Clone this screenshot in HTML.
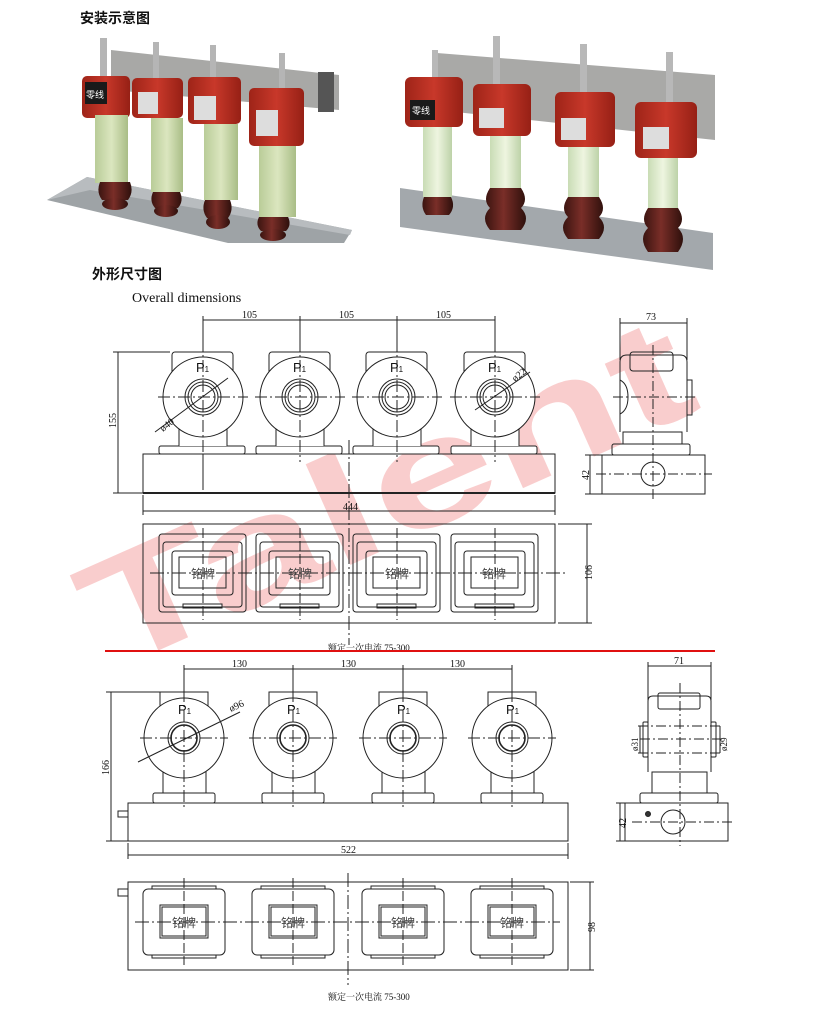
<!DOCTYPE html>
<html><head><meta charset="utf-8"><style>
html,body{margin:0;padding:0;background:#fff;}
svg{display:block;}
.t{font-family:"Liberation Sans","Noto Sans CJK SC",sans-serif;}
.s{font-family:"Liberation Serif","Noto Serif CJK SC",serif;}
</style></head><body>
<svg width="820" height="1028" viewBox="0 0 820 1028" xmlns="http://www.w3.org/2000/svg">
<defs>
<linearGradient id="grn" x1="0" x2="1"><stop offset="0" stop-color="#b9cc98"/><stop offset=".5" stop-color="#dbe6bf"/><stop offset="1" stop-color="#a9bd86"/></linearGradient>
<linearGradient id="grn2" x1="0" x2="1"><stop offset="0" stop-color="#c9dcb5"/><stop offset=".5" stop-color="#eef5e0"/><stop offset="1" stop-color="#bdd2a8"/></linearGradient>
<linearGradient id="brn" x1="0" x2="1"><stop offset="0" stop-color="#3a1410"/><stop offset=".45" stop-color="#7a2e28"/><stop offset="1" stop-color="#2e100c"/></linearGradient>
<linearGradient id="red" x1="0" x2="1"><stop offset="0" stop-color="#9e2418"/><stop offset=".5" stop-color="#c8382a"/><stop offset="1" stop-color="#962015"/></linearGradient>
</defs>

<text x="80" y="23" class="t" font-size="14" font-weight="bold" fill="#111">安装示意图</text>
<text x="92" y="279" class="t" font-size="14" font-weight="bold" fill="#111">外形尺寸图</text>
<text x="132" y="302" class="s" font-size="14" fill="#111">Overall dimensions</text>

<!-- LEFT PHOTO -->
<polygon points="47,200 87,177 352,230 344,243 228,243" fill="#9ea3a6"/>
<polygon points="47,200 87,177 352,230 350,235 90,190" fill="#b8bcbf"/>
<polygon points="111,50 339,75 339,110 111,90" fill="#a8a8a6"/>
<rect x="318" y="72" width="16" height="40" fill="#555"/>
<g stroke="none">
<rect x="100" y="38" width="7" height="40" fill="#b5b5b5"/>
<rect x="153" y="42" width="6" height="40" fill="#b5b5b5"/>
<rect x="210" y="45" width="6" height="40" fill="#b5b5b5"/>
<rect x="279" y="53" width="6" height="40" fill="#b5b5b5"/>
<rect x="82" y="76" width="48" height="42" rx="5" fill="url(#red)"/>
<rect x="85" y="82" width="22" height="22" fill="#1a1a1a"/>
<text x="86" y="98" class="t" font-size="9" fill="#fff">零线</text>
<rect x="132" y="78" width="51" height="40" rx="5" fill="url(#red)"/>
<rect x="138" y="92" width="20" height="22" fill="#ddd"/>
<rect x="188" y="77" width="53" height="47" rx="5" fill="url(#red)"/>
<rect x="194" y="96" width="22" height="24" fill="#ddd"/>
<rect x="249" y="88" width="55" height="58" rx="5" fill="url(#red)"/>
<rect x="256" y="110" width="22" height="26" fill="#ddd"/>
<rect x="95" y="115" width="33" height="68" fill="url(#grn)"/>
<rect x="151" y="118" width="32" height="74" fill="url(#grn)"/>
<rect x="204" y="124" width="34" height="76" fill="url(#grn)"/>
<rect x="259" y="146" width="37" height="71" fill="url(#grn)"/>
<path d="M100,182 h30 q4,10 -2,18 h-26 q-6,-8 -2,-18z" fill="url(#brn)"/>
<ellipse cx="115" cy="204" rx="13" ry="6" fill="url(#brn)"/>
<path d="M153,192 h27 q4,9 -2,16 h-23 q-6,-7 -2,-16z" fill="url(#brn)"/>
<ellipse cx="166" cy="211" rx="12" ry="6" fill="url(#brn)"/>
<path d="M205,200 h25 q4,10 -2,18 h-21 q-6,-8 -2,-18z" fill="url(#brn)"/>
<ellipse cx="218" cy="222" rx="12" ry="7" fill="url(#brn)"/>
<path d="M259,217 h29 q4,8 -2,14 h-25 q-6,-6 -2,-14z" fill="url(#brn)"/>
<ellipse cx="273" cy="235" rx="13" ry="6" fill="url(#brn)"/>
</g>

<!-- RIGHT PHOTO -->
<polygon points="400,188 713,233 713,270 400,227" fill="#a3a8ac"/>
<polygon points="437,53 715,75 715,140 437,110" fill="#a9a9a7"/>
<rect x="432" y="50" width="6" height="35" fill="#b8b8b8"/>
<rect x="493" y="36" width="7" height="50" fill="#b8b8b8"/>
<rect x="580" y="44" width="7" height="50" fill="#b8b8b8"/>
<rect x="666" y="52" width="7" height="52" fill="#b8b8b8"/>
<rect x="405" y="77" width="58" height="50" rx="6" fill="url(#red)"/>
<rect x="410" y="100" width="25" height="20" fill="#1a1a1a"/>
<text x="412" y="114" class="t" font-size="9" fill="#fff">零线</text>
<rect x="473" y="84" width="58" height="52" rx="6" fill="url(#red)"/>
<rect x="479" y="108" width="25" height="20" fill="#ddd"/>
<rect x="555" y="92" width="60" height="55" rx="6" fill="url(#red)"/>
<rect x="561" y="118" width="25" height="22" fill="#ddd"/>
<rect x="635" y="102" width="62" height="56" rx="6" fill="url(#red)"/>
<rect x="643" y="127" width="26" height="22" fill="#ddd"/>
<rect x="423" y="127" width="29" height="70" fill="url(#grn2)"/>
<rect x="490" y="136" width="31" height="52" fill="url(#grn2)"/>
<rect x="568" y="147" width="31" height="50" fill="url(#grn2)"/>
<rect x="648" y="158" width="30" height="50" fill="url(#grn2)"/>
<path d="M424,197 h27 q5,10 -2,18 h-23 q-6,-8 -2,-18z" fill="url(#brn)"/>
<path d="M490,188 h31 q8,12 0,20 q10,10 0,22 h-31 q-10,-12 0,-22 q-8,-8 0,-20z" fill="url(#brn)"/>
<path d="M568,197 h31 q8,12 0,20 q10,10 0,22 h-31 q-10,-12 0,-22 q-8,-8 0,-20z" fill="url(#brn)"/>
<path d="M648,208 h30 q8,12 0,20 q10,10 0,24 h-30 q-10,-14 0,-24 q-8,-8 0,-20z" fill="url(#brn)"/>

<!-- WATERMARK -->
<text x="0" y="0" transform="translate(110,672) rotate(-24)" class="t" font-size="152" font-weight="bold" fill="#f6b8b8" fill-opacity="0.7" textLength="650" lengthAdjust="spacingAndGlyphs">Talent</text>

<!-- ===== DRAWING 1 ===== -->
<g fill="none" stroke="#222" stroke-width="1">
<line x1="203" y1="320" x2="495" y2="320"/>
<line x1="203" y1="316" x2="203" y2="490"/>
<line x1="300" y1="316" x2="300" y2="348"/>
<line x1="397" y1="316" x2="397" y2="348"/>
<line x1="495" y1="316" x2="495" y2="348"/>
<line x1="113" y1="352" x2="170" y2="352"/>
<line x1="118" y1="352" x2="118" y2="493"/>
<line x1="113" y1="493" x2="143" y2="493"/>
<line x1="143" y1="511" x2="555" y2="511"/>
<line x1="143" y1="495" x2="143" y2="515"/>
<line x1="555" y1="495" x2="555" y2="515"/>
<rect x="143" y="454" width="412" height="39"/>
<line x1="143" y1="493" x2="555" y2="493" stroke-width="2"/>
<line x1="349" y1="440" x2="349" y2="645" stroke-dasharray="14,3,2,3"/>
</g>
<g id="u1" fill="none" stroke="#222" stroke-width="1">
<rect x="172" y="352" width="61" height="30" rx="3" fill="#fff"/>
<rect x="159" y="446" width="86" height="8" rx="2" fill="#fff"/>
<rect x="179" y="425" width="48" height="21" fill="#fff" stroke="none"/>
<line x1="179" y1="424" x2="179" y2="446"/><line x1="227" y1="424" x2="227" y2="446"/>
<circle cx="203" cy="397" r="40" fill="#fff"/>
<circle cx="203" cy="397" r="18"/>
<circle cx="203" cy="397" r="15"/>
<circle cx="203" cy="397" r="12"/>
<line x1="158" y1="397" x2="248" y2="397" stroke-dasharray="12,3,2,3"/>
<line x1="203" y1="340" x2="203" y2="462" stroke-dasharray="12,3,2,3"/>
</g>
<use href="#u1" x="97"/><use href="#u1" x="194"/><use href="#u1" x="292"/>
<g class="t" font-size="13" fill="#111">
<text x="196" y="372">P<tspan font-size="8">1</tspan></text>
<text x="293" y="372">P<tspan font-size="8">1</tspan></text>
<text x="390" y="372">P<tspan font-size="8">1</tspan></text>
<text x="488" y="372">P<tspan font-size="8">1</tspan></text>
</g>
<g stroke="#222" stroke-width="1"><line x1="155" y1="432" x2="228" y2="378"/><line x1="475" y1="410" x2="530" y2="372"/></g>
<g class="s" font-size="10" fill="#111">
<text x="242" y="318">105</text><text x="339" y="318">105</text><text x="436" y="318">105</text>
<text x="343" y="510">444</text>
<text transform="translate(116,428) rotate(-90)">155</text>
<text transform="translate(163,432) rotate(-38)">ø40</text>
<text transform="translate(515,382) rotate(-38)">ø22</text>
<text transform="translate(592,580) rotate(-90)">106</text>
<text x="328" y="651" font-size="9">额定一次电流 75-300</text>
</g>
<g fill="none" stroke="#222" stroke-width="1">
<rect x="143" y="524" width="412" height="99"/>
<line x1="558" y1="524" x2="592" y2="524"/><line x1="558" y1="623" x2="592" y2="623"/>
<line x1="587" y1="524" x2="587" y2="623"/>
<line x1="150" y1="573" x2="565" y2="573" stroke-dasharray="14,3,2,3"/>
</g>
<g id="p1" fill="none" stroke="#222" stroke-width="1">
<rect x="159" y="534" width="87" height="78" rx="3"/>
<rect x="163" y="542" width="79" height="65" rx="3"/>
<rect x="172" y="551" width="61" height="44" rx="3"/>
<rect x="179" y="557" width="47" height="31"/>
<rect x="183" y="604" width="39" height="4"/>
<line x1="203" y1="528" x2="203" y2="620" stroke-dasharray="10,3"/>
</g>
<use href="#p1" x="97"/><use href="#p1" x="194"/><use href="#p1" x="292"/>
<g class="t" font-size="12" fill="#444">
<text x="191" y="578">铭牌</text><text x="288" y="578">铭牌</text><text x="385" y="578">铭牌</text><text x="482" y="578">铭牌</text>
</g>
<g fill="none" stroke="#222" stroke-width="1">
<line x1="620" y1="323" x2="687" y2="323"/>
<line x1="620" y1="318" x2="620" y2="360"/><line x1="687" y1="318" x2="687" y2="360"/>
<path d="M620,432 L620,362 Q620,355 627,355 L680,355 Q687,355 687,362 L687,432"/>
<rect x="630" y="352" width="43" height="19" rx="3"/>
<rect x="687" y="380" width="5" height="35"/>
<path d="M620,380 q8,4 8,17 q0,13 -8,17" />
<rect x="623" y="432" width="59" height="12"/>
<rect x="612" y="444" width="78" height="11" rx="2"/>
<rect x="602" y="455" width="103" height="39"/>
<circle cx="653" cy="474" r="12"/>
<line x1="653" y1="345" x2="653" y2="500" stroke-dasharray="10,3,2,3"/>
<line x1="613" y1="397" x2="695" y2="397" stroke-dasharray="10,3,2,3"/>
<line x1="596" y1="474" x2="712" y2="474" stroke-dasharray="10,3,2,3"/>
<line x1="585" y1="455" x2="602" y2="455"/><line x1="585" y1="494" x2="602" y2="494"/>
<line x1="590" y1="455" x2="590" y2="494"/>
</g>
<g class="s" font-size="10" fill="#111">
<text x="646" y="320">73</text>
<text transform="translate(589,480) rotate(-90)">42</text>
</g>

<line x1="105" y1="651" x2="715" y2="651" stroke="#e01010" stroke-width="2"/>

<!-- ===== DRAWING 2 ===== -->
<g fill="none" stroke="#222" stroke-width="1">
<line x1="184" y1="669" x2="512" y2="669"/>
<line x1="184" y1="665" x2="184" y2="690"/><line x1="293" y1="665" x2="293" y2="690"/>
<line x1="403" y1="665" x2="403" y2="690"/><line x1="512" y1="665" x2="512" y2="690"/>
<line x1="106" y1="692" x2="160" y2="692"/>
<line x1="111" y1="692" x2="111" y2="841"/>
<line x1="106" y1="841" x2="128" y2="841"/>
<line x1="128" y1="855" x2="568" y2="855"/>
<line x1="128" y1="843" x2="128" y2="859"/><line x1="568" y1="843" x2="568" y2="859"/>
<rect x="128" y="803" width="440" height="38"/>
<rect x="118" y="811" width="10" height="6"/>
</g>
<g id="u2" fill="none" stroke="#222" stroke-width="1">
<rect x="160" y="692" width="48" height="20" fill="#fff"/>
<rect x="163" y="770" width="43" height="23" fill="#fff"/>
<rect x="153" y="793" width="62" height="10" rx="2" fill="#fff"/>
<circle cx="184" cy="738" r="40" fill="#fff"/>
<circle cx="184" cy="738" r="16"/>
<circle cx="184" cy="738" r="13" stroke-width="1.6"/>
<line x1="140" y1="738" x2="228" y2="738" stroke-dasharray="12,3,2,3"/>
<line x1="184" y1="690" x2="184" y2="810" stroke-dasharray="12,3,2,3"/>
</g>
<use href="#u2" x="109"/><use href="#u2" x="219"/><use href="#u2" x="328"/>
<g class="t" font-size="13" fill="#111">
<text x="178" y="714">P<tspan font-size="8">1</tspan></text>
<text x="287" y="714">P<tspan font-size="8">1</tspan></text>
<text x="397" y="714">P<tspan font-size="8">1</tspan></text>
<text x="506" y="714">P<tspan font-size="8">1</tspan></text>
</g>
<line x1="138" y1="762" x2="240" y2="712" stroke="#222"/>
<g class="s" font-size="10" fill="#111">
<text x="232" y="667">130</text><text x="341" y="667">130</text><text x="450" y="667">130</text>
<text x="341" y="853">522</text>
<text transform="translate(109,775) rotate(-90)">166</text>
<text transform="translate(231,712) rotate(-25)">ø96</text>
<text transform="translate(595,932) rotate(-90)">98</text>
<text x="328" y="1000" font-size="9">额定一次电流 75-300</text>
</g>
<g fill="none" stroke="#222" stroke-width="1">
<rect x="128" y="882" width="440" height="88"/>
<rect x="118" y="889" width="10" height="7"/>
<line x1="570" y1="882" x2="594" y2="882"/><line x1="570" y1="970" x2="594" y2="970"/>
<line x1="590" y1="882" x2="590" y2="970"/>
<line x1="135" y1="922" x2="560" y2="922" stroke-dasharray="14,3,2,3"/>
<line x1="348" y1="873" x2="348" y2="985" stroke-dasharray="14,3,2,3"/>
</g>
<g id="p2" fill="none" stroke="#222" stroke-width="1">
<rect x="143" y="889" width="82" height="66" rx="5"/>
<rect x="152" y="886" width="64" height="3"/>
<rect x="152" y="955" width="64" height="3"/>
<rect x="160" y="905" width="48" height="33"/>
<rect x="162" y="907" width="44" height="29"/>
<line x1="184" y1="878" x2="184" y2="965" stroke-dasharray="10,3"/>
</g>
<use href="#p2" x="109"/><use href="#p2" x="219"/><use href="#p2" x="328"/>
<g class="t" font-size="12" fill="#444">
<text x="172" y="927">铭牌</text><text x="281" y="927">铭牌</text><text x="391" y="927">铭牌</text><text x="500" y="927">铭牌</text>
</g>
<g fill="none" stroke="#222" stroke-width="1">
<line x1="648" y1="666" x2="711" y2="666"/>
<line x1="648" y1="662" x2="648" y2="700"/><line x1="711" y1="662" x2="711" y2="700"/>
<path d="M648,772 L648,701 Q648,696 653,696 L706,696 Q711,696 711,701 L711,772"/>
<rect x="658" y="693" width="42" height="16" rx="2"/>
<rect x="643" y="722" width="5" height="35" rx="1"/>
<rect x="711" y="722" width="5" height="35" rx="1"/>
<line x1="638" y1="726" x2="722" y2="726" stroke-dasharray="10,3,2,3"/>
<line x1="638" y1="753" x2="722" y2="753" stroke-dasharray="10,3,2,3"/>
<line x1="640" y1="739" x2="722" y2="739" stroke-dasharray="10,3,2,3"/>
<line x1="640" y1="726" x2="640" y2="753"/><line x1="720" y1="726" x2="720" y2="753"/>
<rect x="652" y="772" width="55" height="21"/>
<rect x="640" y="793" width="78" height="10" rx="2"/>
<rect x="625" y="803" width="103" height="38"/>
<circle cx="673" cy="822" r="12"/>
<circle cx="648" cy="814" r="2.5" fill="#333"/>
<line x1="680" y1="683" x2="680" y2="846" stroke-dasharray="10,3,2,3"/>
<line x1="632" y1="822" x2="732" y2="822" stroke-dasharray="10,3,2,3"/>
<line x1="616" y1="803" x2="625" y2="803"/><line x1="616" y1="841" x2="625" y2="841"/>
<line x1="620" y1="803" x2="620" y2="841"/>
</g>
<g class="s" font-size="10" fill="#111">
<text x="674" y="664">71</text>
<text transform="translate(638,751) rotate(-90)" font-size="9">ø31</text>
<text transform="translate(727,751) rotate(-90)" font-size="9">ø29</text>
<text transform="translate(626,828) rotate(-90)">42</text>
</g>
</svg>
</body></html>
